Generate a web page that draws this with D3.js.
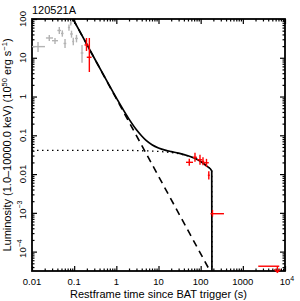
<!DOCTYPE html>
<html>
<head>
<meta charset="utf-8">
<script src="https://d3js.org/d3.v7.min.js"></script>
<style>
  html, body { margin: 0; padding: 0; background: #fff; }
  svg { display: block; font-family: "Liberation Sans", Arial, sans-serif; }
  .domain { display: none; }
</style>
</head>
<body>
<svg width="300" height="301"></svg>
<script>
// grey BAT points: [t, tLo, tHi, L, LLo, LHi]
var batData = [
  [0.0139, 0.0100, 0.0203, 19.4, 14.1, 25.6],
  [0.0257, 0.0214, 0.0315, 32.4, 27.1, 38.7],
  [0.0351, 0.0298, 0.0413, 27.6, 22.7, 32.4],
  [0.0444, 0.0400, 0.0487, 50.6, 41.1, 62.2],
  [0.0524, 0.0487, 0.0560, 42.4, 35.0, 51.0],
  [0.0607, 0.0560, 0.0650, 23.4, 17.9, 30.6],
  [0.0753, 0.0710, 0.0800, 60.4, 50.0, 72.0],
  [0.0830, 0.0790, 0.0870, 78.0, 68.0, 90.0],
  [0.0865, 0.0800, 0.0930, 41.1, 33.0, 50.0],
  [0.0953, 0.0900, 0.1000, 26.3, 21.0, 33.0],
  [0.1135, 0.1050, 0.1220, 31.5, 25.0, 39.0],
  [0.1535, 0.1430, 0.1650, 13.3, 7.4, 21.4]
];

// red XRT points: [t, tLo, tHi, L, LLo, LHi]
var xrtData = [
  [0.196, 0.176, 0.219, 21.4, 15.0, 32.4],
  [0.229, 0.199, 0.259, 10.3, 4.3, 32.4],
  [53.7, 44.9, 65.7, 0.0201, 0.0164, 0.0247],
  [73.3, 65.7, 81.5, 0.0271, 0.0209, 0.0353],
  [96.4, 82.9, 108.8, 0.0234, 0.0175, 0.0314],
  [113.5, 105, 122, 0.0211, 0.0170, 0.0270],
  [137.4, 119, 156, 0.0196, 0.0154, 0.0247],
  [155.9, 148, 164, 0.00933, 0.00722, 0.0118],
  [190.6, 171, 357, 9.5e-4, 8.0e-4, 1.19e-3]
];

// XRT upper limit: [t, tLo, tHi, L]
var xrtUpper = [[6600, 2320, 7310, 4.2e-5]];

// model curves: [t, L]
var modelTotal = [
  [0.07, 180], [0.2, 22.04], [0.5, 3.56], [1, 0.921], [2, 0.261], [3, 0.1385],
  [4, 0.0957], [5, 0.0749], [7, 0.0572], [10, 0.0472], [15, 0.041], [20, 0.0381],
  [30, 0.0346], [50, 0.0297], [70, 0.0259], [100, 0.0212], [140, 0.0161],
  [183, 0.0121], [186, 1e-6]
];
var modelSteep = [[0.05, 352], [250, 1.41e-5]];
var modelPlateau = [
  [0.01, 0.041], [1, 0.041], [5, 0.0397], [10, 0.0384], [20, 0.0359], [40, 0.0315],
  [70, 0.0257], [100, 0.0211], [140, 0.0161], [183, 0.0121], [186, 1e-6]
];

var xTicks = [0.01, 0.1, 1, 10, 100, 1000, 1e4];
var xTickLabels = [["0.01"], ["0.1"], ["1"], ["10"], ["100"], ["1000"], ["10", "4"]];
var yTicks = [1e-4, 1e-3, 0.01, 0.1, 1, 10, 100];
var yTickLabels = [["10", "\u22124"], ["10", "\u22123"], ["0.01"], ["0.1"], ["1"], ["10"], ["100"]];

var svg = d3.select("svg"),
    pLeft = 32, pRight = 285, pTop = 19, pBottom = 271;

var x = d3.scaleLog().domain([0.01, 1e4]).range([pLeft, pRight]);
var y = d3.scaleLog().domain([Math.pow(10, -4.5), 100]).range([pBottom, pTop]);

function minors(scale) {
  var d = scale.domain(), out = [];
  for (var e = Math.floor(Math.log10(d[0])); e <= Math.ceil(Math.log10(d[1])); e++) {
    for (var k = 2; k <= 9; k++) {
      var v = k * Math.pow(10, e);
      if (v >= d[0] && v <= d[1]) out.push(v);
    }
  }
  return out;
}

// ticks on all four sides, pointing inwards
function tickGroup(axis, tx, ty) {
  svg.append("g").attr("transform", "translate(" + tx + "," + ty + ")").call(axis)
    .selectAll("line").attr("stroke", "#000").attr("stroke-width", 1.2);
}
tickGroup(d3.axisBottom(x).tickValues(xTicks).tickSize(-5).tickFormat(""), 0, pBottom);
tickGroup(d3.axisBottom(x).tickValues(minors(x)).tickSize(-2.5).tickFormat(""), 0, pBottom);
tickGroup(d3.axisTop(x).tickValues(xTicks).tickSize(-5).tickFormat(""), 0, pTop);
tickGroup(d3.axisTop(x).tickValues(minors(x)).tickSize(-2.5).tickFormat(""), 0, pTop);
tickGroup(d3.axisLeft(y).tickValues(yTicks).tickSize(-5).tickFormat(""), pLeft, 0);
tickGroup(d3.axisLeft(y).tickValues(minors(y)).tickSize(-2.5).tickFormat(""), pLeft, 0);
tickGroup(d3.axisRight(y).tickValues(yTicks).tickSize(-5).tickFormat(""), pRight, 0);
tickGroup(d3.axisRight(y).tickValues(minors(y)).tickSize(-2.5).tickFormat(""), pRight, 0);

svg.append("rect")
  .attr("x", pLeft).attr("y", pTop)
  .attr("width", pRight - pLeft).attr("height", pBottom - pTop)
  .attr("fill", "none").attr("stroke", "#000").attr("stroke-width", 1.8);

// tick labels
function addLabel(g, parts) {
  g.append("tspan").text(parts[0]);
  if (parts.length > 1) {
    g.append("tspan").attr("dy", -4).attr("font-size", 7).text(parts[1]);
  }
}
xTicks.forEach(function(v, i) {
  var p = xTickLabels[i];
  var t = svg.append("text")
    .attr("x", x(v) + (p.length > 1 ? 2 : 0)).attr("y", 285)
    .attr("text-anchor", "middle").attr("font-size", 9.5);
  addLabel(t, p);
});
yTicks.forEach(function(v, i) {
  var p = yTickLabels[i];
  var t = svg.append("text")
    .attr("transform", "translate(26," + (y(v) - (p.length > 1 ? 3 : 0)) + ") rotate(-90)")
    .attr("text-anchor", "middle").attr("font-size", 9.5);
  addLabel(t, p);
});

// titles
svg.append("text").attr("x", 32).attr("y", 13.5).attr("font-size", 11).text("120521A");
svg.append("text").attr("x", (pLeft + pRight) / 2).attr("y", 298)
  .attr("text-anchor", "middle").attr("font-size", 11)
  .text("Restframe time since BAT trigger (s)");
var yt = svg.append("text")
  .attr("transform", "translate(11," + ((pTop + pBottom) / 2) + ") rotate(-90)")
  .attr("text-anchor", "middle").attr("font-size", 11);
yt.append("tspan").text("Luminosity (1.0\u201310000.0 keV) (10");
yt.append("tspan").attr("dy", -4).attr("font-size", 7.5).text("50");
yt.append("tspan").attr("dy", 4).text(" erg s");
yt.append("tspan").attr("dy", -4).attr("font-size", 7.5).text("\u22121");
yt.append("tspan").attr("dy", 4).text(")");

// model curves, clipped to the plot frame
svg.append("clipPath").attr("id", "plot")
  .append("rect").attr("x", pLeft).attr("y", pTop)
  .attr("width", pRight - pLeft).attr("height", pBottom - pTop);

var line = d3.line()
  .x(function(d) { return x(d[0]); })
  .y(function(d) { return y(d[1]); })
  .curve(d3.curveMonotoneX);

var models = svg.append("g").attr("clip-path", "url(#plot)").attr("fill", "none").attr("stroke", "#000");
models.append("path").datum(modelPlateau).attr("d", line)
  .attr("stroke-width", 1.3).attr("stroke-dasharray", "1.5,3.5");
models.append("path").datum(modelSteep).attr("d", line)
  .attr("stroke-width", 1.6).attr("stroke-dasharray", "7,5");
models.append("path").datum(modelTotal).attr("d", line)
  .attr("stroke-width", 1.7);

// data crosses
function crosses(data, color) {
  var g = svg.append("g").attr("stroke", color).attr("stroke-width", 1.4);
  g.selectAll(".h").data(data).enter().append("line")
    .attr("x1", function(d) { return x(d[1]); })
    .attr("x2", function(d) { return x(d[2]); })
    .attr("y1", function(d) { return y(d[3]); })
    .attr("y2", function(d) { return y(d[3]); });
  g.selectAll(".v").data(data).enter().append("line")
    .attr("x1", function(d) { return x(d[0]); })
    .attr("x2", function(d) { return x(d[0]); })
    .attr("y1", function(d) { return y(d[4]); })
    .attr("y2", function(d) { return y(d[5]); });
}
crosses(batData, "#b3b3b3");
crosses(xrtData, "#ff0000");

// upper limit with arrow
var ul = svg.append("g").attr("stroke", "#ff0000").attr("stroke-width", 1.4).attr("fill", "none");
xrtUpper.forEach(function(d) {
  var cx = x(d[0]), cy = y(d[3]);
  ul.append("line").attr("x1", x(d[1])).attr("x2", x(d[2])).attr("y1", cy).attr("y2", cy);
  ul.append("line").attr("x1", cx).attr("x2", cx).attr("y1", cy).attr("y2", cy + 6);
  ul.append("path").attr("d", "M" + (cx - 3) + "," + (cy + 3) + "L" + cx + "," + (cy + 6) + "L" + (cx + 3) + "," + (cy + 3));
});
</script>
</body>
</html>
